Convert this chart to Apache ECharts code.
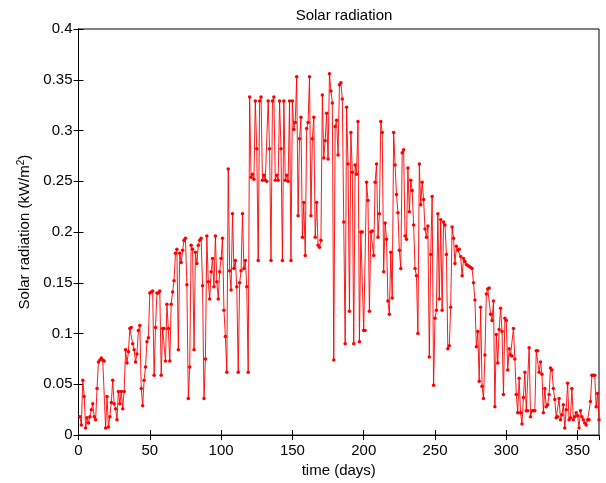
<!DOCTYPE html>
<html>
<head>
<meta charset="utf-8">
<script src="https://cdn.jsdelivr.net/npm/echarts@6/dist/echarts.min.js"></script>
<style>html,body{margin:0;padding:0;background:#fff}#c{width:606px;height:483px}</style>
</head>
<body>
<div id="c"></div>
<script>
const titleText = 'Solar radiation';
const xLabel = 'time (days)';
const xTicks = [0, 50, 100, 150, 200, 250, 300, 350];
const yTicks = [0, 0.05, 0.1, 0.15, 0.2, 0.25, 0.3, 0.35, 0.4];
const firstDay = 1;
const radiation = [
0.018,0.010,0.054,0.038,0.007,0.017,0.012,0.018,0.025,0.031,
0.018,0.015,0.046,0.072,0.074,0.076,0.074,0.073,0.007,0.038,
0.008,0.018,0.032,0.054,0.031,0.026,0.015,0.043,0.031,0.043,
0.026,0.043,0.084,0.071,0.082,0.105,0.106,0.090,0.084,
0.072,0.080,0.103,0.108,0.046,0.029,
0.054,0.067,0.092,0.096,0.140,0.141,0.142,0.059,0.106,0.140,
0.140,0.142,0.059,0.105,0.105,0.073,0.129,0.105,0.073,0.129,
0.141,0.152,0.179,0.183,0.084,0.179,0.170,0.182,0.192,0.194,
0.148,0.036,0.067,0.187,0.183,0.084,0.180,0.169,0.187,0.192,
0.194,0.147,0.036,
0.075,0.196,0.151,0.134,0.161,0.174,0.146,0.196,0.151,0.134,
0.161,0.174,0.194,0.123,0.097,0.062,0.262,0.162,0.143,0.218,
0.164,0.172,0.146,0.062,0.150,0.162,0.218,0.164,0.172,0.146,
0.062,0.333,
0.254,0.257,0.252,0.329,0.282,0.172,0.329,0.333,0.251,0.256,
0.251,0.250,0.329,0.282,0.172,0.329,0.333,0.251,0.256,0.251,
0.329,0.282,0.172,0.329,0.251,0.256,0.250,0.329,0.172,0.329,
0.301,0.308,0.353,0.216,0.292,0.313,0.195,0.229,0.177,0.302,
0.308,0.353,0.216,
0.292,0.313,0.195,0.229,0.187,0.185,0.192,0.335,0.273,0.290,
0.317,0.272,0.356,0.339,0.327,0.074,0.304,0.310,0.276,0.345,
0.347,0.331,0.210,0.090,0.323,0.267,0.122,0.298,0.259,0.090,
0.266,0.257,0.309,0.092,0.200,0.200,0.103,0.103,0.249,0.231,
0.122,0.200,0.201,
0.177,0.249,0.267,0.195,0.218,0.309,0.298,0.161,0.209,0.193,
0.132,0.119,0.180,0.135,0.298,0.266,0.237,0.219,0.182,0.164,
0.278,0.281,0.196,0.193,0.263,0.220,0.251,0.241,0.207,0.164,
0.157,0.100,0.267,0.227,0.249,0.232,0.203,0.195,0.206,0.077,
0.178,
0.235,0.049,0.115,0.123,0.218,0.134,0.212,0.123,0.210,0.207,
0.178,0.085,0.088,0.126,0.205,0.194,0.169,0.186,0.182,0.183,
0.176,0.157,0.174,0.171,0.168,0.167,0.166,0.165,0.164,0.150,
0.133,0.087,0.102,0.053,0.126,0.048,0.036,0.079,0.139,0.144,
0.145,0.119,0.113,0.132,0.028,0.099,0.071,0.104,0.125,0.102,
0.040,0.115,0.113,0.064,0.085,0.079,0.078,0.105,0.075,0.040,
0.022,0.056,0.022,0.011,0.037,0.062,0.024,0.024,0.086,0.018,
0.024,0.024,0.024,0.083,0.083,0.062,0.072,0.060,0.022,
0.046,0.028,0.030,0.040,0.066,0.064,0.046,0.035,0.017,0.018,
0.036,0.015,0.020,0.030,0.007,0.025,0.051,0.015,0.017,0.046,
0.015,0.018,0.022,0.019,0.007,0.024,0.018,0.015,0.012,0.010,
0.015,0.015,0.033,0.059,0.059,0.059,0.028,0.041,0.015
];

const points = radiation.map((v, i) => [firstDay + i, v]);
const font = 'Liberation Sans, Arial, Helvetica, sans-serif';
const chart = echarts.init(document.getElementById('c'), null, {renderer: 'canvas'});
const xMin = xTicks[0], xMax = 365, xStep = xTicks[1] - xTicks[0];
const yMin = yTicks[0], yMax = yTicks[yTicks.length - 1], yStep = yTicks[1] - yTicks[0];
const tickStyle = {show: true, inside: true, length: 5, lineStyle: {color: '#000', width: 1}};
chart.setOption({
  animation: false,
  backgroundColor: '#fff',
  title: {
    text: titleText, left: 339, top: 3, textAlign: 'center',
    textStyle: {fontFamily: font, fontSize: 15, fontWeight: 'normal', color: '#000'}
  },
  grid: {left: 78.5, right: 7, top: 29, bottom: 46, show: true, borderColor: '#000', borderWidth: 1, backgroundColor: '#fff'},
  xAxis: [{
    type: 'value', min: xMin, max: xMax, interval: xStep,
    name: xLabel, nameLocation: 'middle', nameGap: 27,
    nameTextStyle: {fontFamily: font, fontSize: 15, color: '#000'},
    axisLine: {show: true, lineStyle: {color: '#000'}},
    axisTick: tickStyle,
    axisLabel: {fontFamily: font, fontSize: 15, color: '#000', margin: 8, showMaxLabel: false},
    splitLine: {show: false}
  }, {
    type: 'value', position: 'top', min: xMin, max: xMax, interval: xStep,
    axisLine: {show: true, lineStyle: {color: '#000'}},
    axisTick: tickStyle, axisLabel: {show: false}, splitLine: {show: false}
  }],
  yAxis: [{
    type: 'value', min: yMin, max: yMax, interval: yStep,
    name: '{n|Solar radiation (kW/m}{s|2}{n|)}', nameLocation: 'middle', nameGap: 42,
    nameTextStyle: {
      fontFamily: font, fontSize: 15, color: '#000',
      rich: {
        n: {fontFamily: font, fontSize: 15, color: '#000', lineHeight: 18},
        s: {fontFamily: font, fontSize: 10, color: '#000', lineHeight: 18, verticalAlign: 'top', padding: [0, 0, 6, 0]}
      }
    },
    axisLine: {show: true, lineStyle: {color: '#000'}},
    axisTick: tickStyle,
    axisLabel: {fontFamily: font, fontSize: 15, color: '#000', margin: 6},
    splitLine: {show: false}
  }, {
    type: 'value', position: 'right', min: yMin, max: yMax, interval: yStep,
    axisLine: {show: true, lineStyle: {color: '#000'}},
    axisTick: tickStyle, axisLabel: {show: false}, splitLine: {show: false}
  }],
  series: [{
    type: 'line', data: points, xAxisIndex: 0, yAxisIndex: 0,
    showSymbol: true, showAllSymbol: true, symbol: 'circle', symbolSize: 3.5,
    itemStyle: {color: '#ff0000', borderWidth: 0},
    lineStyle: {color: '#ff0000', width: 0.9},
    emphasis: {disabled: true}
  }]
});
</script>
</body>
</html>
